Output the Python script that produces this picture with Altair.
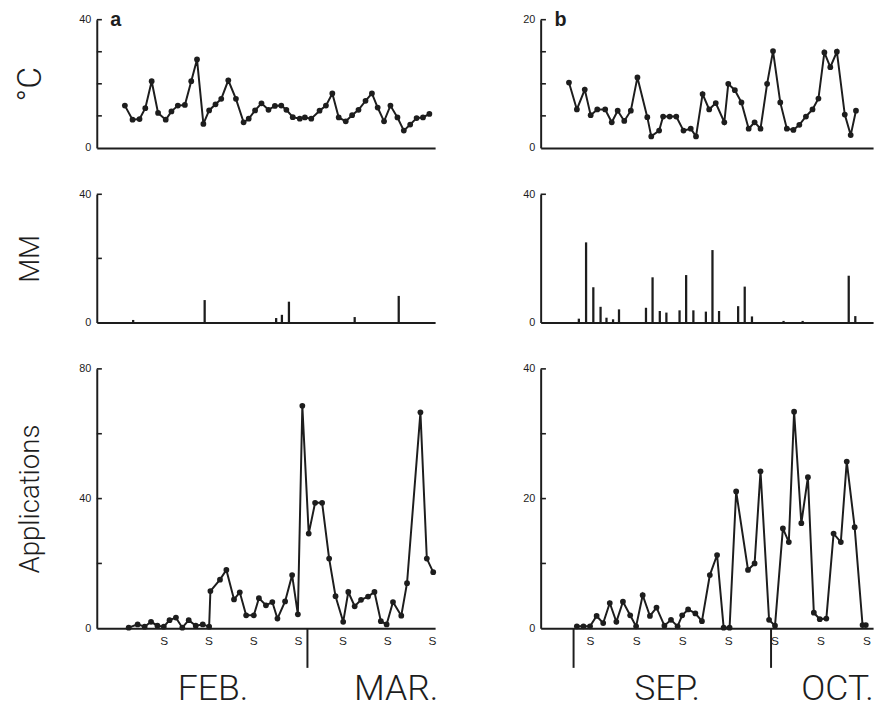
import altair as alt
import pandas as pd

# ---------------- data (day 0 = 1st of first month) ----------------
# Panel a: February - March
temp_a_day = [-1.1, 0.1, 1.2, 2.1, 3.1, 4.1, 5.3, 6.2, 7.2, 8.3, 9.3, 10.2, 11.2, 12.1, 13.1, 14.0,
              15.1, 16.3, 17.5, 18.3, 19.3, 20.3, 21.4, 22.4, 23.4, 24.2, 25.2, 26.3, 27.1, 28.1,
              29.4, 30.4, 31.4, 32.4, 33.5, 34.5, 35.5, 36.6, 37.6, 38.5, 39.5, 40.5, 41.6, 42.6,
              43.6, 44.6, 45.6, 46.6]
temp_a_val = [13.2, 8.8, 9.0, 12.4, 20.8, 10.9, 8.8, 11.4, 13.2, 13.4, 20.8, 27.6, 7.5, 11.7, 13.6,
              15.3, 21.1, 15.3, 8.0, 9.1, 11.7, 13.9, 11.9, 13.1, 13.2, 11.9, 9.6, 9.1, 9.5, 9.1,
              11.6, 13.2, 17.0, 9.5, 8.3, 10.2, 11.9, 14.7, 17.0, 12.6, 8.3, 13.2, 9.5, 5.4, 7.3,
              9.3, 9.5, 10.6]

rain_a_day = [0.2, 11.4, 22.6, 23.5, 24.6, 34.9, 41.8]
rain_a_val = [0.8, 7.0, 1.4, 2.4, 6.5, 1.7, 8.3]

appl_a_day = [-0.5, 0.9, 2.0, 3.0, 4.0, 5.0, 5.9, 6.9, 7.9, 8.9, 10.0, 11.1, 12.1, 12.3, 13.8, 14.8,
              16.0, 16.9, 17.9, 19.1, 19.9, 21.0, 22.0, 22.8, 24.0, 25.1, 26.0, 26.7, 27.7, 28.7,
              29.8, 30.9, 31.9, 33.1, 33.9, 34.9, 35.9, 37.0, 38.0, 39.0, 39.9, 40.9, 42.2, 43.1,
              45.2, 46.2, 47.2]
appl_a_val = [0.2, 1.2, 0.5, 2.0, 0.8, 0.5, 2.5, 3.3, 0.2, 2.5, 0.8, 1.2, 0.5, 11.5, 15.0, 18.0,
              8.9, 11.1, 4.0, 4.0, 9.3, 7.1, 8.1, 3.0, 8.3, 16.4, 4.3, 68.6, 29.2, 38.7,
              38.7, 21.5, 9.9, 2.0, 11.2, 6.8, 8.8, 9.8, 11.2, 2.2, 1.2, 8.1, 3.9, 13.9,
              66.6, 21.5, 17.3]

# Panel b: September - October
temp_b_day = [-1.2, 0.0, 1.2, 2.1, 3.1, 4.3, 5.3, 6.2, 7.2, 8.2, 9.2, 10.7, 11.3, 12.5, 13.1, 14.1,
              15.1, 16.2, 17.3, 18.1, 19.1, 20.1, 21.1, 22.4, 23.0, 24.0, 25.0, 26.1, 27.0, 27.9,
              28.9, 29.8, 30.9, 31.9, 32.9, 33.8, 34.8, 35.8, 36.7, 37.6, 38.5, 39.5, 40.7, 41.6,
              42.4]
temp_b_val = [10.2, 6.0, 9.1, 5.1, 6.0, 6.0, 4.0, 5.8, 4.2, 5.8, 11.0, 4.8, 1.8, 2.7, 4.9, 4.9,
              4.9, 2.7, 3.0, 1.8, 8.4, 6.0, 7.0, 4.0, 10.0, 9.0, 7.1, 3.0, 4.0, 3.0,
              10.0, 15.1, 7.1, 3.0, 2.8, 3.6, 4.9, 6.0, 7.7, 14.9, 12.6, 15.0, 5.2, 2.0, 5.8]

rain_b_day = [0.3, 1.4, 2.5, 3.6, 4.5, 5.5, 6.4, 10.5, 11.5, 12.6, 13.6, 15.6, 16.6, 17.7, 19.6,
              20.6, 21.6, 24.5, 25.5, 26.6, 31.4, 34.3, 41.3, 42.3]
rain_b_val = [1.2, 25.0, 11.0, 4.9, 1.5, 1.0, 4.1, 4.6, 14.1, 3.6, 3.1, 3.8, 14.8, 3.8, 3.4,
              22.6, 3.6, 5.1, 11.2, 1.9, 0.5, 0.5, 14.6, 2.0]

appl_b_day = [0.0, 1.0, 2.0, 3.0, 4.0, 5.0, 6.0, 7.0, 8.1, 9.0, 10.0, 11.1, 12.1, 13.3, 14.3, 15.3,
              16.0, 16.9, 18.0, 19.0, 20.2, 21.3, 22.3, 23.2, 24.2, 26.0, 27.0, 27.9, 29.2, 30.1,
              31.3, 32.2, 33.0, 34.1, 35.1, 36.0, 36.9, 37.9, 39.0, 40.1, 41.0, 42.2, 43.4, 43.9]
appl_b_val = [0.3, 0.3, 0.3, 1.9, 0.8, 3.9, 1.0, 4.1, 2.0, 0.3, 5.1, 1.9, 3.2, 0.4, 1.3, 0.3,
              2.0, 2.9, 2.3, 1.1, 8.2, 11.3, 0.1, 0.1, 21.1, 9.0, 10.0, 24.2, 1.3, 0.4,
              15.4, 13.3, 33.4, 16.2, 23.3, 2.4, 1.4, 1.5, 14.6, 13.3, 25.7, 15.6, 0.5, 0.5]

sundays_a = [5, 12, 19, 26, 33, 40, 47]
sundays_b = [2, 9, 16, 23, 30, 37, 44]
month_lines_a = [27.5]
month_lines_b = [-0.5, 29.5]
months_a = ["FEB.", "MAR."]
months_a_start = [7.2, 34.8]
months_b = ["SEP.", "OCT."]
months_b_start = [8.7, 34.1]

# ---------------- style ----------------
INK = "#1d1d1d"
NUM_FONT = "Liberation Sans"
LIGHT_FONT = "Roboto"

DOM_A = [-5.5, 47.5]
DOM_B = [-5.5, 45.0]
W_A, W_B = 343, 337
H_SMALL, H_BIG = 130, 263


def make_x(dom, sundays=None):
    if sundays is None:
        axis = alt.Axis(labels=False, ticks=False, grid=False, title=None,
                        domainColor=INK, domainWidth=2)
    else:
        axis = alt.Axis(values=sundays, labelExpr="'S'", ticks=False, grid=False, title=None,
                        domainColor=INK, domainWidth=2, labelFont=NUM_FONT, labelFontSize=12,
                        labelColor=INK, labelPadding=7)
    return alt.X("d:Q", scale=alt.Scale(domain=dom, nice=False, zero=False), axis=axis)


def make_y(dom, label_vals, title=None, h=H_SMALL, tsize=28):
    kw = dict(values=label_vals, ticks=False, grid=False, domainColor=INK, domainWidth=2,
              labelFont=NUM_FONT, labelFontSize=11, labelColor=INK, labelPadding=6)
    if title:
        kw.update(title=title, titleFont=LIGHT_FONT, titleFontWeight=300, titleFontSize=tsize,
                  titleColor=INK, titleAngle=-90, titleAlign="center", titleBaseline="middle",
                  titleX=-67, titleY=h / 2)
    else:
        kw.update(title=None)
    return alt.Y("v:Q", scale=alt.Scale(domain=dom, nice=False, zero=False), axis=alt.Axis(**kw))


def inner_ticks(X, Y, dom, vals):
    df = pd.DataFrame({"v": vals, "d": [dom[0]] * len(vals), "d2": [dom[0] + 0.8] * len(vals)})
    return alt.Chart(df).mark_rule(color=INK, strokeWidth=1.6).encode(x=X, x2="d2:Q", y=Y)


def line_panel(days, vals, X, Y):
    df = pd.DataFrame({"d": days, "v": vals})
    return alt.Chart(df).mark_line(
        color=INK, strokeWidth=2,
        point=alt.OverlayMarkDef(filled=True, size=34, color=INK)
    ).encode(x=X, y=Y)


def bar_panel(days, vals, X, Y):
    df = pd.DataFrame({"d": days, "v": vals})
    return alt.Chart(df).mark_rule(color=INK, strokeWidth=2.3).encode(x=X, y=Y, y2=alt.datum(0))


def letter(X, Y, dom, ytop, txt):
    df = pd.DataFrame({"d": [dom[0] + 2.1], "v": [ytop], "t": [txt]})
    return alt.Chart(df).mark_text(font=NUM_FONT, fontWeight="bold", fontSize=20, color=INK,
                                   align="left", baseline="middle").encode(x=X, y=Y, text="t:N")


def month_parts(X, Y, lines, names, starts, drop, text_y):
    ldf = pd.DataFrame({"d": lines, "v": [0] * len(lines)})
    rules = alt.Chart(ldf).mark_rule(color=INK, strokeWidth=2).encode(
        x=X, y=Y, y2=alt.datum(drop))
    tdf = pd.DataFrame({"d": starts, "v": [text_y] * len(starts), "t": names})
    texts = alt.Chart(tdf).mark_text(font=LIGHT_FONT, fontWeight=300, fontSize=36, color=INK,
                                     align="left", baseline="alphabetic").encode(
        x=X, y=Y, text="t:N")
    return rules + texts


# ---- panel a ----
XA = make_x(DOM_A)
XA_s = make_x(DOM_A, sundays_a)
Y_ta = make_y([0, 40], [0, 40], "°C", tsize=34)
Y_ra = make_y([0, 40], [0, 40], "MM")
Y_aa = make_y([0, 80], [0, 40, 80], "Applications", H_BIG)

temp_a = alt.layer(
    line_panel(temp_a_day, temp_a_val, XA, Y_ta),
    inner_ticks(XA, Y_ta, DOM_A, [10, 20, 30, 40]),
    letter(XA, Y_ta, DOM_A, 40, "a"),
).properties(width=W_A, height=H_SMALL)

rain_a = alt.layer(
    bar_panel(rain_a_day, rain_a_val, XA, Y_ra),
    inner_ticks(XA, Y_ra, DOM_A, [20, 40]),
).properties(width=W_A, height=H_SMALL)

appl_a = alt.layer(
    line_panel(appl_a_day, appl_a_val, XA_s, Y_aa),
    inner_ticks(XA_s, Y_aa, DOM_A, [20, 40, 60, 80]),
    month_parts(XA_s, Y_aa, month_lines_a, months_a, months_a_start, -12.2, -22.2),
).properties(width=W_A, height=H_BIG)

# ---- panel b ----
XB = make_x(DOM_B)
XB_s = make_x(DOM_B, sundays_b)
Y_tb = make_y([0, 20], [0, 20])
Y_rb = make_y([0, 40], [0, 40])
Y_ab = make_y([0, 40], [0, 20, 40], None, H_BIG)

temp_b = alt.layer(
    line_panel(temp_b_day, temp_b_val, XB, Y_tb),
    inner_ticks(XB, Y_tb, DOM_B, [5, 10, 15, 20]),
    letter(XB, Y_tb, DOM_B, 20, "b"),
).properties(width=W_B, height=H_SMALL)

rain_b = alt.layer(
    bar_panel(rain_b_day, rain_b_val, XB, Y_rb),
    inner_ticks(XB, Y_rb, DOM_B, [40]),
).properties(width=W_B, height=H_SMALL)

appl_b = alt.layer(
    line_panel(appl_b_day, appl_b_val, XB_s, Y_ab),
    inner_ticks(XB_s, Y_ab, DOM_B, [10, 20, 30, 40]),
    month_parts(XB_s, Y_ab, month_lines_b, months_b, months_b_start, -6.1, -11.1),
).properties(width=W_B, height=H_BIG)

chart = alt.concat(
    temp_a, temp_b, rain_a, rain_b, appl_a, appl_b,
    columns=2, spacing={"row": 47, "column": 107},
).properties(
    bounds="flush", align="each", background="white",
    padding={"left": 6, "top": -3, "right": 5, "bottom": 0},
).configure_view(stroke=None)

chart.save("out.html", embed_options={"renderer": "svg", "actions": False})
